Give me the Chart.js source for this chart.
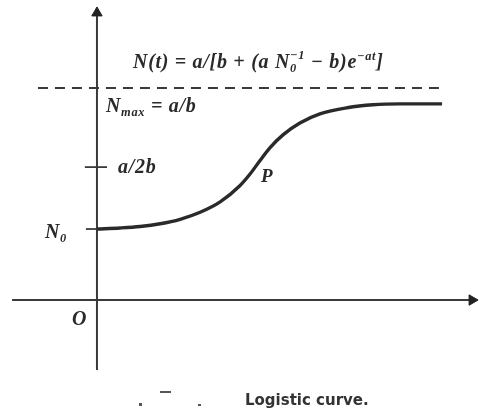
<!DOCTYPE html>
<html>
<head>
<meta charset="utf-8">
<style>
  html, body { margin: 0; padding: 0; background: #fff; }
  #wrap { width: 489px; height: 415px; }
</style>
<script src="https://cdn.jsdelivr.net/npm/chart.js@4"></script>
</head>
<body>
<div id="wrap"><canvas id="logistic" width="489" height="415"></canvas></div>
<script>
// logistic growth N(t)
const curveT = [0, 0.67, 1.25, 1.83, 2.41, 2.99, 3.57, 4.14, 4.43, 4.72, 5.01, 5.39, 5.88, 6.46, 7.25, 8.00, 8.78, 10.0];
const curveN = [3.35, 3.40, 3.47, 3.60, 3.81, 4.14, 4.63, 5.39, 5.93, 6.57, 7.18, 7.79, 8.35, 8.78, 9.07, 9.21, 9.25, 9.25];

// asymptote N = a/b
const nMax = 10;
const asymptoteT = [-1.71, 9.94];

// marks on the N axis
const tickValues = [3.35, 6.27];
const tickLabels = ["N0", "a/2b"];
const tickFrom = [-0.32, -0.35];
const tickTo = [0, 0.29];

// axis extents
const axisT = [-2.46, 10.87];
const axisN = [-3.3, 13.54];

const ink = "#2a2a2a";
const serif = "'Liberation Serif', 'DejaVu Serif', serif";

function pts(xs, ys) {
    return xs.map((v, i) => ({ x: v, y: ys[i] }));
}

// draws a run of text pieces with sub/superscripts, returns end x
function drawRuns(ctx, x, y, runs, size) {
    let cx = x;
    const small = size * 0.62;
    runs.forEach(([text, kind]) => {
        if (kind === "stack") {
            ctx.font = `bold italic ${small}px ${serif}`;
            ctx.fillText(text[0], cx, y - size * 0.45);
            ctx.fillText(text[1], cx, y + size * 0.22);
            cx += Math.max(ctx.measureText(text[0]).width, ctx.measureText(text[1]).width);
        } else if (kind === "sup") {
            ctx.font = `bold italic ${small}px ${serif}`;
            ctx.fillText(text, cx, y - size * 0.42);
            cx += ctx.measureText(text).width;
        } else if (kind === "sub") {
            ctx.font = `bold italic ${small}px ${serif}`;
            ctx.fillText(text, cx, y + size * 0.22);
            cx += ctx.measureText(text).width;
        } else {
            ctx.font = `bold italic ${size}px ${serif}`;
            ctx.fillText(text, cx, y);
            cx += ctx.measureText(text).width;
        }
    });
    return cx;
}

const labels = {
    id: "labels",
    afterDatasetsDraw(chart) {
        const { ctx, scales: { x, y } } = chart;
        const x0 = x.getPixelForValue(0);
        ctx.save();
        ctx.fillStyle = ink;
        ctx.textBaseline = "alphabetic";
        ctx.letterSpacing = "0.7px";

        drawRuns(ctx, 133, 68, [
            ["N(t) = a/[b + (a N", "n"],
            [["\u22121", "0"], "stack"],
            [" \u2212 b)e", "n"],
            ["\u2212at", "sup"],
            ["]", "n"]
        ], 20);

        drawRuns(ctx, x0 + 9, y.getPixelForValue(nMax) + 24, [
            ["N", "n"], ["max", "sub"], [" = a/b", "n"]
        ], 20);

        drawRuns(ctx, x0 + 21, y.getPixelForValue(tickValues[1]) + 6, [["a/2b", "n"]], 20);
        drawRuns(ctx, x0 - 52, y.getPixelForValue(tickValues[0]) + 9, [["N", "n"], ["0", "sub"]], 20);
        drawRuns(ctx, x0 - 25, y.getPixelForValue(0) + 25, [["O", "n"]], 20);
        drawRuns(ctx, x.getPixelForValue(4.75), y.getPixelForValue(5.55), [["P", "n"]], 19);

        // caption
        ctx.letterSpacing = "0px";
        ctx.font = `bold 15px 'DejaVu Sans', sans-serif`;
        ctx.fillStyle = "#333";
        ctx.fillText("Logistic curve.", 245, 405);
        ctx.fillStyle = "#555";
        ctx.fillRect(139, 403, 3, 3);
        ctx.fillRect(160, 391, 11, 2);
        ctx.fillRect(198, 404, 3, 2);
        ctx.restore();
    }
};

new Chart(document.getElementById("logistic"), {
    type: "line",
    data: {
        datasets: [
            {
                data: pts(curveT, curveN),
                borderColor: ink,
                borderWidth: 3.4,
                cubicInterpolationMode: "monotone",
                pointRadius: 0
            },
            {
                data: pts(asymptoteT, [nMax, nMax]),
                borderColor: "#3a3a3a",
                borderWidth: 2,
                borderDash: [10, 7],
                pointRadius: 0
            },
            {
                data: pts(axisT, [0, 0]),
                borderColor: "#3a3a3a",
                borderWidth: 2,
                pointRadius: [0, 6],
                pointStyle: "triangle",
                rotation: 90,
                pointBackgroundColor: "#222",
                pointBorderColor: "#222",
                pointBorderWidth: 1
            },
            {
                data: pts([0, 0], axisN),
                borderColor: "#3a3a3a",
                borderWidth: 2,
                pointRadius: [0, 6],
                pointStyle: "triangle",
                pointBackgroundColor: "#222",
                pointBorderColor: "#222",
                pointBorderWidth: 1
            },
            ...tickValues.map((v, i) => ({
                data: pts([tickFrom[i], tickTo[i]], [v, v]),
                borderColor: "#3a3a3a",
                borderWidth: 1.8,
                pointRadius: 0
            }))
        ]
    },
    options: {
        responsive: false,
        animation: false,
        layout: { padding: 0, autoPadding: false },
        scales: {
            x: { type: "linear", min: -2.81, max: 11.36, display: false },
            y: { type: "linear", min: -5.42, max: 14.15, display: false }
        },
        plugins: {
            legend: { display: false },
            tooltip: { enabled: false }
        }
    },
    plugins: [labels]
});
</script>
</body>
</html>
